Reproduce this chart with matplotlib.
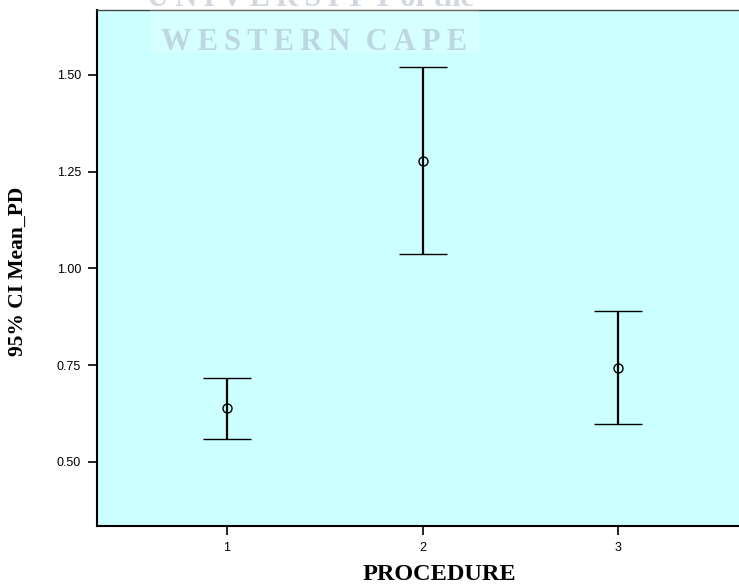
import matplotlib.pyplot as plt
from matplotlib.patches import Rectangle

procedure = [1, 2, 3]
mean_pd = [0.638, 1.278, 0.742]
lower = [0.559, 1.037, 0.597]
upper = [0.716, 1.521, 0.890]

yticks = [0.50, 0.75, 1.00, 1.25, 1.50]

fig = plt.figure(figsize=(7.39, 5.88), dpi=100)
ax = fig.add_axes([97/739, 1 - 526/588, 1 - 97/739, (526 - 10)/588])
ax.set_facecolor('#CCFFFF')

err_lo = [m - l for m, l in zip(mean_pd, lower)]
err_hi = [u - m for m, u in zip(mean_pd, upper)]
ax.errorbar(procedure, mean_pd, yerr=[err_lo, err_hi], fmt='o', color='black',
            mfc='none', mec='black', ms=6.5, mew=1.0,
            elinewidth=1.6, capsize=17, capthick=1.6)

ax.set_xlim(0.336, 3.617)
ax.set_ylim(0.334, 1.668)
ax.set_xticks(procedure)
ax.set_xticklabels([str(p) for p in procedure])
ax.set_yticks(yticks)
ax.set_yticklabels(['%.2f' % v for v in yticks])

for lab in ax.get_xticklabels() + ax.get_yticklabels():
    lab.set_fontfamily('Liberation Sans')
    lab.set_fontsize(9)
ax.tick_params(direction='out', length=6.5, width=1.2, pad=5)

ax.spines['right'].set_visible(False)
ax.spines['left'].set_linewidth(1.5)
ax.spines['bottom'].set_linewidth(1.5)
ax.spines['top'].set_linewidth(1.0)
ax.spines['top'].set_color('#444444')

fig.text(18/739, 1 - 271/588, '95% CI Mean_PD', rotation=90, ha='center', va='center',
         fontfamily='Liberation Serif', fontweight='bold', fontsize=15.5)
fig.text(439/739, 1 - 575/588, 'PROCEDURE', ha='center', va='center',
         fontfamily='Liberation Serif', fontweight='bold', fontsize=17.5)

# scan watermark
ts = '\u2009'
fig.patches.append(Rectangle((150/739, 1 - 53/588), 329/739, 43/588,
                             transform=fig.transFigure, facecolor='white',
                             alpha=0.2, edgecolor='none', zorder=5))
fig.text(314/739, 1 - 42/588, ts.join('WESTERN') + '  ' + ts.join('CAPE'),
         ha='center', va='center', fontfamily='Liberation Serif',
         fontweight='bold', fontsize=22, color='#bcd6e2', zorder=6)
fig.text(311/739, 1 + 1/588, ts.join('UNIVERSITY') + ' of the', ha='center',
         va='center', fontfamily='Liberation Serif', fontweight='bold',
         fontsize=22, color='#d2d8de', zorder=6)

fig.savefig('out.png', dpi=100)
